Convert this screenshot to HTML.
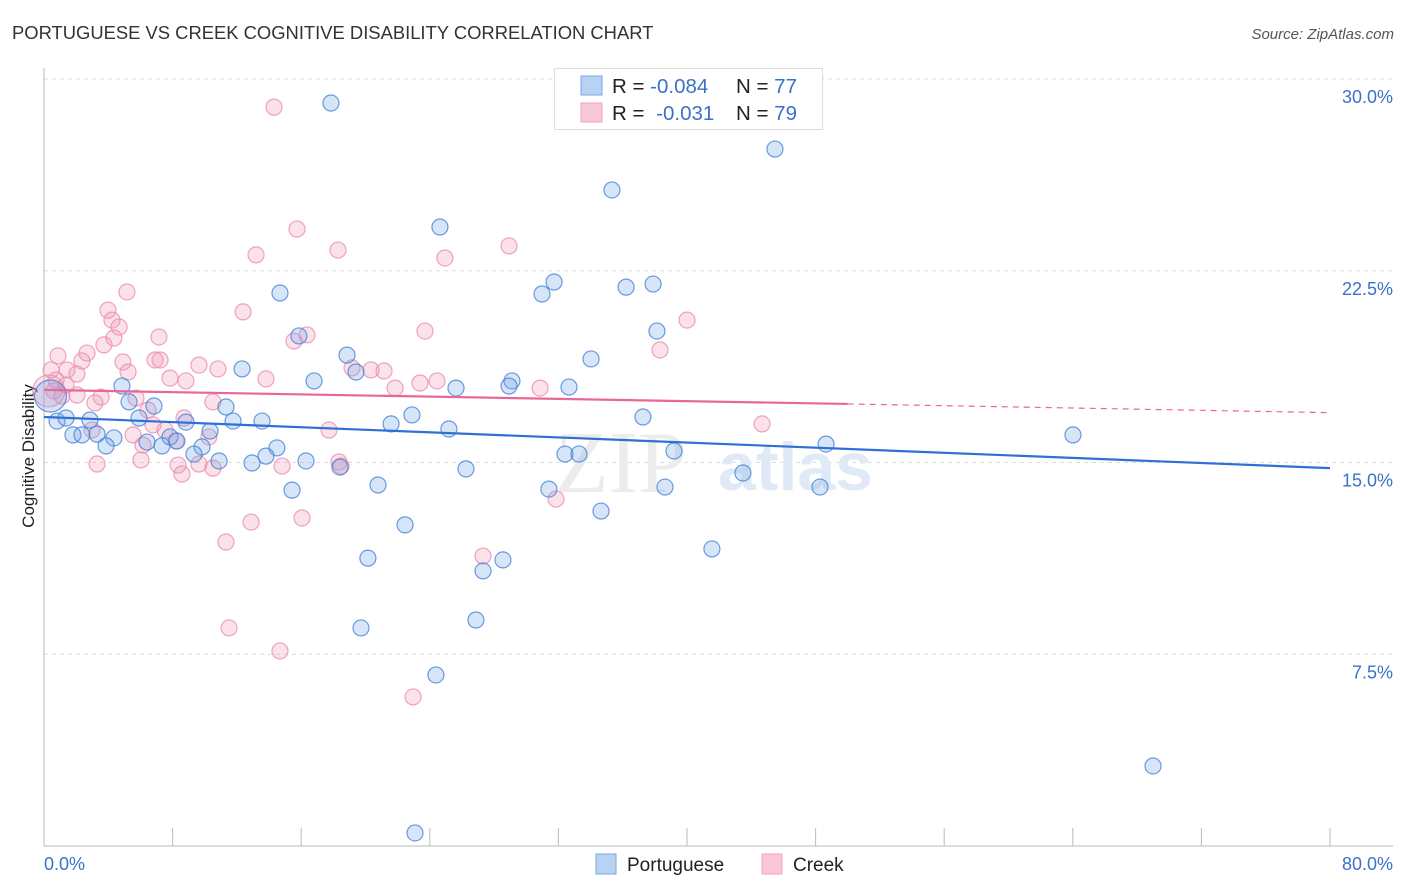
<!DOCTYPE html>
<html><head><meta charset="utf-8"><style>
body{margin:0;background:#fff;font-family:"Liberation Sans",sans-serif;}
svg{display:block}
</style></head><body>
<svg id="chart" width="1406" height="892">
<text x="12" y="39" font-size="18.4" fill="#333">PORTUGUESE VS CREEK COGNITIVE DISABILITY CORRELATION CHART</text>
<text x="1394" y="39" font-size="15" fill="#555" font-style="italic" text-anchor="end">Source: ZipAtlas.com</text>
<g id="grid"></g>
<g><text x="555" y="492" font-size="88" font-family="Liberation Serif,serif" fill="#ececec">ZIP</text><text x="718" y="490" font-size="68" fill="#e0eaf6" font-weight="bold">atlas</text></g>
<line x1="44" y1="68" x2="44" y2="846" stroke="#bbb"/>
<line x1="44" y1="846" x2="1393" y2="846" stroke="#bbb"/>
<g id="xticks"></g>
<g id="yticks"></g>
<text x="44" y="870" font-size="18" fill="#3a72c8">0.0%</text>
<text x="1393" y="870" font-size="18" fill="#3a72c8" text-anchor="end">80.0%</text>
<text transform="translate(34,456) rotate(-90)" font-size="17" fill="#222" text-anchor="middle">Cognitive Disability</text>
<g id="pts"></g>
<g id="trends"></g>
<g>
<rect x="554.5" y="68.5" width="268" height="61" fill="#fff" stroke="#ddd"/>
<rect x="581" y="76" width="21" height="19" fill="#b8d2f4" stroke="#7aa6e0"/>
<rect x="581" y="103" width="21" height="19" fill="#f8c8d8" stroke="#f0a0bc"/>
<text x="612" y="93" font-size="20.5" fill="#222">R = <tspan fill="#3a72c8">-0.084</tspan><tspan x="736">N = </tspan><tspan fill="#3a72c8">77</tspan></text>
<text x="612" y="120" font-size="20.5" fill="#222">R = <tspan fill="#3a72c8" dx="6">-0.031</tspan><tspan x="736">N = </tspan><tspan fill="#3a72c8">79</tspan></text>
</g>
<g>
<rect x="596" y="854" width="20" height="20" fill="#b8d2f4" stroke="#7aa6e0"/>
<text x="627" y="871" font-size="19" fill="#222">Portuguese</text>
<rect x="762" y="854" width="20" height="20" fill="#f8c8d8" stroke="#f0a0bc"/>
<text x="793" y="871" font-size="19" fill="#222">Creek</text>
</g>
</svg>
<script>
const yTicks=[7.5,15,22.5,30];
const xTickVals=[0,8,16,24,32,40,48,56,64,72,80];
const blueX=[17.85,45.47,35.33,24.63,14.68,31.73,30.98,36.21,37.89,38.13,34.03,18.85,15.86,19.41,16.8,29.11,28.93,32.66,25.63,4.85,5.29,6.84,11.32,12.32,0.81,1.37,2.86,1.8,2.36,3.3,4.35,3.86,5.91,6.41,7.34,7.84,8.27,8.83,9.83,10.33,11.76,13.56,14.49,9.33,10.89,12.94,13.81,16.3,18.41,21.59,22.89,25.19,26.25,32.41,33.28,37.26,39.19,43.48,48.65,48.27,64.01,38.63,31.41,20.78,15.43,22.46,34.65,20.15,27.31,28.55,41.55,19.72,26.87,24.38,23.08,68.99,0.4];
const blueY=[29.06,27.26,25.66,24.21,21.63,22.06,21.59,21.86,21.98,20.14,19.05,19.2,19.95,18.54,18.19,18.19,17.99,17.95,17.91,17.99,17.37,17.21,17.17,18.66,16.62,16.74,16.66,16.08,16.08,16.11,15.96,15.65,16.74,15.8,15.65,16.0,15.84,16.58,15.61,16.23,16.62,16.62,15.57,15.33,15.06,14.98,15.25,15.06,14.82,16.51,16.86,16.31,14.75,15.33,15.33,16.78,15.45,14.59,15.72,14.04,16.08,14.04,13.96,14.12,13.92,12.56,13.1,11.26,10.76,11.19,11.62,8.53,8.84,6.69,0.51,3.13,17.6];
const pinkX=[14.31,15.74,18.29,13.19,24.94,28.93,5.16,3.98,4.23,4.67,12.38,40.0,23.7,16.36,15.55,4.35,3.73,0.87,2.67,2.36,7.15,38.32,4.91,6.91,7.22,5.23,9.64,10.82,8.83,7.84,13.81,19.16,20.34,21.15,21.84,23.39,24.45,30.86,1.43,2.05,0.44,0.62,1.12,2.05,3.55,3.17,5.72,6.47,10.51,8.71,6.78,7.53,5.54,6.16,10.26,8.21,17.73,9.64,10.51,8.34,8.58,6.03,3.3,14.81,18.35,18.48,44.67,31.85,12.88,16.05,11.32,27.31,11.51,14.68,22.96,2.99,0.75,1.37,0.3];
const pinkY=[28.9,24.13,23.31,23.12,23.0,23.47,21.67,20.96,20.57,20.3,20.89,20.57,20.14,19.99,19.75,19.87,19.6,19.17,19.28,18.97,19.91,19.4,18.93,19.01,19.01,18.54,18.81,18.66,18.19,18.3,18.27,18.7,18.62,18.58,17.91,18.11,18.19,17.91,18.62,18.46,18.62,17.8,17.6,17.64,17.56,17.33,17.52,17.05,17.37,16.74,16.47,16.27,16.08,15.68,16.0,15.84,16.27,14.94,14.78,14.9,14.55,15.1,14.94,14.86,15.02,14.86,16.51,13.57,12.67,12.83,11.89,11.34,8.53,7.63,5.83,16.27,18.23,18.03,17.8];
const blueTrend=[16.78,14.78];
const pinkTrend=[17.84,17.29,16.95];
const pinkSolidEnd=50;
const NS='http://www.w3.org/2000/svg';
const X=v=>44+v/80*1286;
const Y=v=>846-v/30*767;
function mk(tag,attrs,parent){const e=document.createElementNS(NS,tag);for(const k in attrs)e.setAttribute(k,attrs[k]);document.getElementById(parent).appendChild(e);return e;}
yTicks.forEach(t=>{
 const l=mk('line',{x1:44,x2:1393,y1:Y(t),y2:Y(t),stroke:'#ddd','stroke-dasharray':'4,4'},'grid');
 
 
 const tx=mk('text',{x:1393,y:Y(t)+24,'font-size':18,fill:'#3a72c8','text-anchor':'end'},'yticks');
 tx.textContent=t.toFixed(1)+'%';
 
 
});
xTickVals.forEach(t=>{
 const l=mk('line',{x1:X(t),x2:X(t),y1:828,y2:846,stroke:'#bbb'},'xticks');
 
 
});
function dots(xs,ys,fill,stroke,name){
 xs.forEach((x,i)=>{
  const big=(i===xs.length-1);
  const c=mk('circle',{cx:X(x),cy:Y(ys[i]),r:big?16:8,fill:fill,stroke:stroke,'stroke-width':1.2},'pts');
  
  
 });
}
dots(pinkX,pinkY,'rgba(240,150,180,0.28)','rgba(235,140,175,0.8)','creek-point');
dots(blueX,blueY,'rgba(110,160,230,0.28)','rgba(70,130,215,0.8)','portuguese-point');
let l=mk('line',{x1:X(0),y1:Y(blueTrend[0]),x2:X(80),y2:Y(blueTrend[1]),stroke:'#2f6fd6','stroke-width':2.2},'trends');


l=mk('line',{x1:X(0),y1:Y(pinkTrend[0]),x2:X(pinkSolidEnd),y2:Y(pinkTrend[1]),stroke:'#e8679a','stroke-width':2.2},'trends');


l=mk('line',{x1:X(pinkSolidEnd),y1:Y(pinkTrend[1]),x2:X(80),y2:Y(pinkTrend[2]),stroke:'#e8679a','stroke-width':1.2,'stroke-dasharray':'6,5'},'trends');


</script>
</body></html>
